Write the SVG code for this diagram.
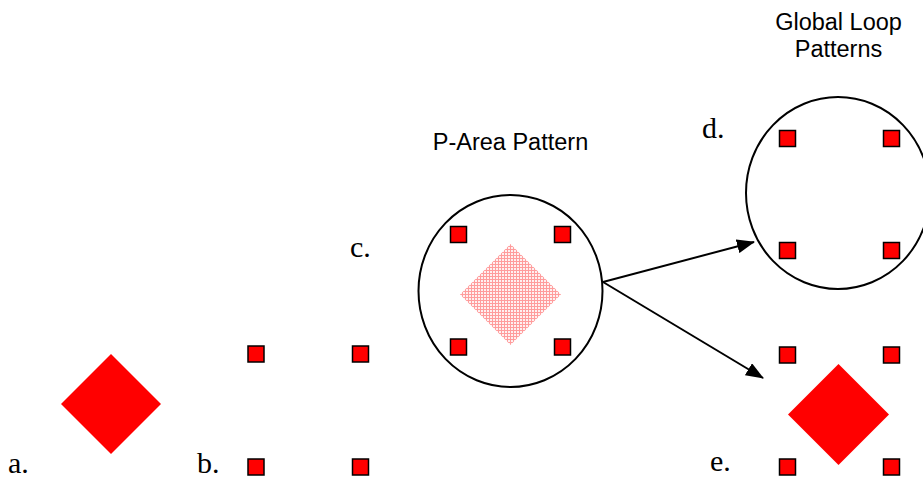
<svg xmlns="http://www.w3.org/2000/svg" width="923" height="478" viewBox="0 0 923 478">
<style>
.sq{fill:#ff0000;stroke:#000;stroke-width:1.5}
.dia{fill:#ff0000}
.ring{fill:none;stroke:#000;stroke-width:2}
.lbl{font-family:"Liberation Serif","Times New Roman",serif;font-size:30px;fill:#000}
.ttl{font-family:"Liberation Sans",Arial,sans-serif;font-size:23.5px;fill:#000;text-anchor:middle}
.conn{stroke:#000;stroke-width:2;fill:none;marker-end:url(#ah)}
</style>
<defs>
<marker id="ah" markerWidth="18" markerHeight="14" refX="17" refY="7" orient="auto" markerUnits="userSpaceOnUse">
<path d="M0,0 L18,7 L0,14 Z" fill="#000"/>
</marker>
<pattern id="dots" width="3" height="3" patternUnits="userSpaceOnUse">
<rect width="3" height="3" fill="#fff0f0"/>
<rect width="3" height="1" fill="#ff9c9c"/>
<rect width="1" height="3" fill="#ff9c9c"/>
</pattern>
</defs>
<g id="node-a">
<polygon class="dia" points="111,354 161,404 111,454 61,404"/>
<text class="lbl" x="8" y="473">a.</text>
</g>
<g id="node-b">
<rect class="sq" x="248" y="346" width="16" height="16"/>
<rect class="sq" x="352.5" y="346" width="16" height="16"/>
<rect class="sq" x="248" y="459" width="16" height="16"/>
<rect class="sq" x="352.5" y="459" width="16" height="16"/>
<text class="lbl" x="197" y="473">b.</text>
</g>
<g id="node-c">
<text class="ttl" x="510.5" y="150">P-Area Pattern</text>
<ellipse class="ring" cx="510.5" cy="291" rx="92" ry="96"/>
<polygon fill="url(#dots)" points="510.5,244 561,294.5 510.5,345 460,294.5"/>
<rect class="sq" x="450.5" y="226.5" width="16" height="16"/>
<rect class="sq" x="554.5" y="226.5" width="16" height="16"/>
<rect class="sq" x="450.5" y="339" width="16" height="16"/>
<rect class="sq" x="554.5" y="339" width="16" height="16"/>
<text class="lbl" x="350" y="257">c.</text>
</g>
<g id="node-d">
<text class="ttl" x="838.5" y="30">Global Loop</text>
<text class="ttl" x="838.5" y="57">Patterns</text>
<ellipse class="ring" cx="838" cy="193" rx="92" ry="96"/>
<rect class="sq" x="779.5" y="130.5" width="16" height="16"/>
<rect class="sq" x="883.5" y="130.5" width="16" height="16"/>
<rect class="sq" x="779.5" y="242.5" width="16" height="16"/>
<rect class="sq" x="883.5" y="242.5" width="16" height="16"/>
<text class="lbl" x="702" y="138">d.</text>
</g>
<g id="node-e">
<polygon class="dia" points="838.5,364 889,414.5 838.5,465 788,414.5"/>
<rect class="sq" x="779.5" y="347" width="16" height="16"/>
<rect class="sq" x="883.5" y="347" width="16" height="16"/>
<rect class="sq" x="779.5" y="459" width="16" height="16"/>
<rect class="sq" x="883.5" y="459" width="16" height="16"/>
<text class="lbl" x="710" y="471">e.</text>
</g>
<g id="connectors">
<line class="conn" x1="603" y1="282" x2="754" y2="242"/>
<line class="conn" x1="603" y1="282" x2="763" y2="378"/>
</g>
</svg>
